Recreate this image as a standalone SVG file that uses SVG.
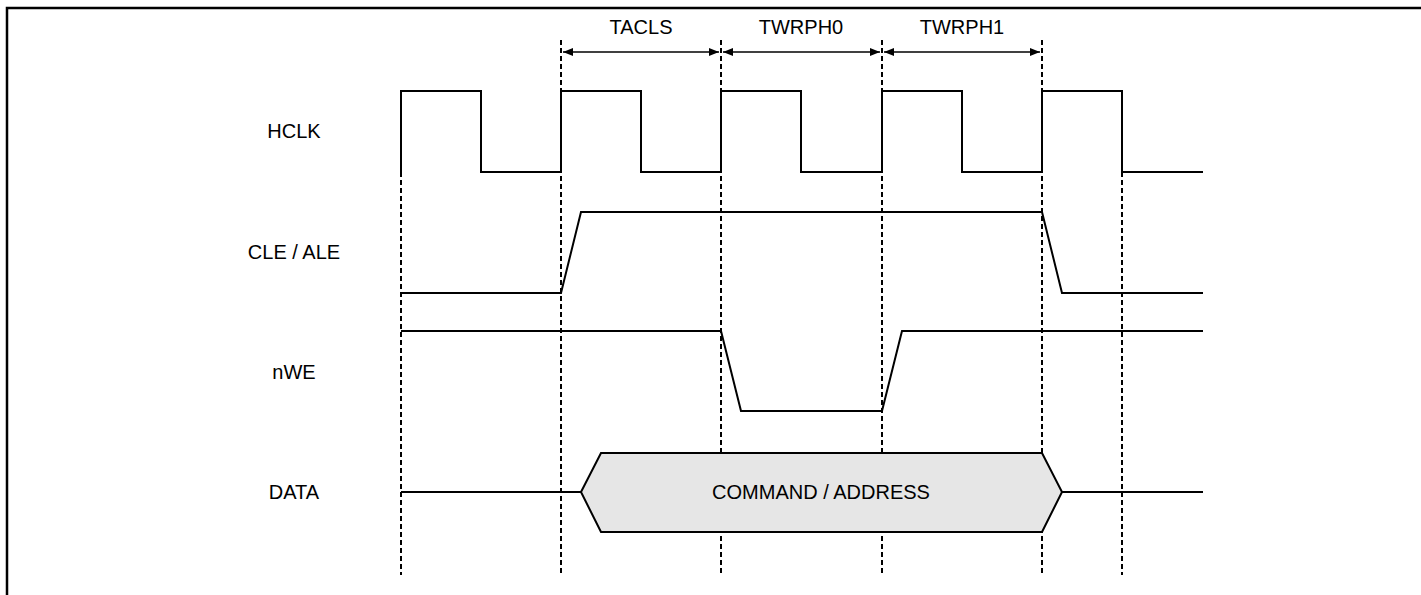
<svg xmlns="http://www.w3.org/2000/svg" width="1421" height="595" viewBox="0 0 1421 595">
<style>
.lbl{font-family:"Liberation Sans",Arial,sans-serif;font-size:20px;fill:#000;text-anchor:middle}
.sig{fill:none;stroke:#000;stroke-width:2;stroke-linejoin:miter}
.dash{stroke:#000;stroke-width:2;stroke-dasharray:5,3;fill:none}
.dim{stroke:#000;stroke-width:1.5;fill:none;marker-start:url(#ah);marker-end:url(#ah)}
</style>
<defs>
<marker id="ah" viewBox="0 0 10 8" refX="10" refY="4" markerWidth="10" markerHeight="8" markerUnits="userSpaceOnUse" orient="auto-start-reverse">
<path d="M0,0 L10,4 L0,8 Z" fill="#000"/>
</marker>
</defs>
<rect width="1421" height="595" fill="#fff"/>
<g id="frame">
<path d="M7,595 V8 H1421" fill="none" stroke="#000" stroke-width="2.5"/>
</g>
<g id="connectors">
<line class="dash" x1="401" y1="172" x2="401" y2="575"/>
<line class="dash" x1="561" y1="40" x2="561" y2="575"/>
<line class="dash" x1="721" y1="40" x2="721" y2="575"/>
<line class="dash" x1="882" y1="40" x2="882" y2="575"/>
<line class="dash" x1="1042" y1="40" x2="1042" y2="575"/>
<line class="dash" x1="1122" y1="172" x2="1122" y2="575"/>
<line class="dim" x1="563" y1="52" x2="719" y2="52"/>
<line class="dim" x1="723" y1="52" x2="880" y2="52"/>
<line class="dim" x1="884" y1="52" x2="1040" y2="52"/>
</g>
<g id="timing-labels">
<text class="lbl" x="641" y="34">TACLS</text>
<text class="lbl" x="801" y="34">TWRPH0</text>
<text class="lbl" x="962" y="34">TWRPH1</text>
</g>
<g id="HCLK">
<text class="lbl" x="294" y="138">HCLK</text>
<path class="sig" d="M401,172 V91 H481 V172 H561 V91 H641 V172 H721 V91 H801 V172 H882 V91 H962 V172 H1042 V91 H1122 V172 H1203"/>
</g>
<g id="CLE-ALE">
<text class="lbl" x="294" y="259">CLE / ALE</text>
<path class="sig" d="M401,293 H561 L581,212 H1042 L1062,293 H1203"/>
</g>
<g id="nWE">
<text class="lbl" x="294" y="379">nWE</text>
<path class="sig" d="M401,331 H721 L741,411 H882 L902,331 H1203"/>
</g>
<g id="DATA">
<text class="lbl" x="294" y="499">DATA</text>
<path class="sig" d="M401,492 H581"/>
<path class="sig" d="M1062,492 H1203"/>
<path d="M581,492 L601,453 H1042 L1062,492 L1042,532 H601 Z" fill="#e6e6e6" stroke="#000" stroke-width="2"/>
<text class="lbl" x="821" y="499">COMMAND / ADDRESS</text>
</g>
</svg>
